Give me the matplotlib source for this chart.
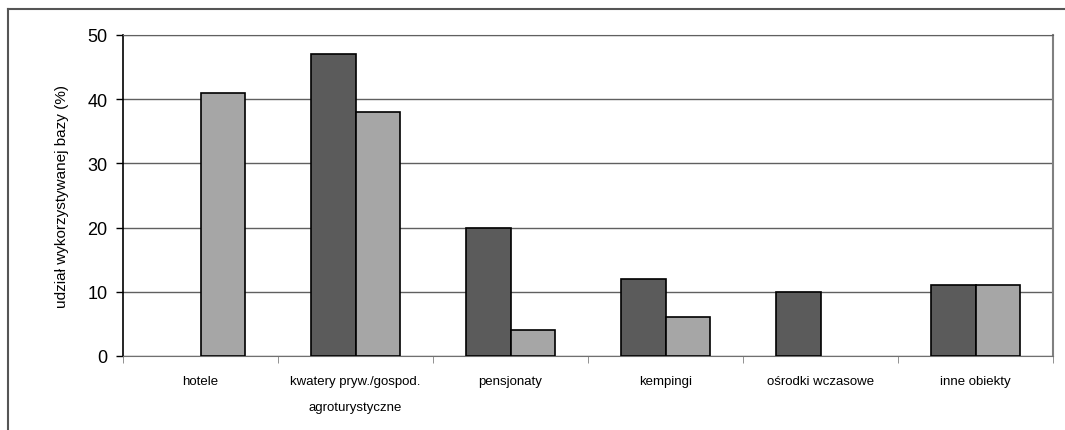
import numpy as np
import matplotlib.pyplot as plt
from matplotlib.lines import Line2D

plt.rcParams['font.family'] = ['Liberation Sans', 'DejaVu Sans']

kategorie = ['hotele', 'kwatery pryw./gospod.\nagroturystyczne', 'pensjonaty',
             'kempingi', 'ośrodki wczasowe', 'inne obiekty']
seria1 = [0, 47, 20, 12, 10, 11]
seria2 = [41, 38, 4, 6, 0, 11]
yticks = [0, 10, 20, 30, 40, 50]

fig = plt.figure(figsize=(10.65, 4.31), dpi=100)
ax = fig.add_axes([123/1065, 74/431, 930/1065, 321/431])

x = np.arange(len(kategorie))
w = 0.29
# slupki o wartosci 0 nie sa rysowane
for xi, v in zip(x, seria1):
    if v > 0:
        ax.bar(xi - w, v, w, align='edge', color='#5b5b5b', edgecolor='black',
               linewidth=1.2, zorder=3)
for xi, v in zip(x, seria2):
    if v > 0:
        ax.bar(xi, v, w, align='edge', color='#a6a6a6', edgecolor='black',
               linewidth=1.2, zorder=3)

ax.set_xlim(-0.5, len(kategorie) - 0.5)
ax.set_ylim(0, 50)
ax.set_yticks(yticks)
ax.tick_params(axis='y', labelsize=13, length=5, width=1, direction='out', pad=6)
ax.yaxis.grid(True, color='#606060', linewidth=1, zorder=0)
ax.set_xticks(x)
ax.set_xticklabels(kategorie, fontsize=9.5, linespacing=2.5, va='top')
ax.tick_params(axis='x', length=0, pad=14)
ax.set_xticks(np.arange(len(kategorie) + 1) - 0.5, minor=True)
ax.tick_params(axis='x', which='minor', length=5, color='#808080', direction='out')

ax.spines['left'].set_color('black')
ax.spines['left'].set_linewidth(1.2)
ax.spines['bottom'].set_color('#707070')
ax.spines['right'].set_color('#808080')
ax.spines['right'].set_linewidth(1.5)
ax.spines['top'].set_color('#606060')

ax.set_ylabel('udział wykorzystywanej bazy (%)', fontsize=11)
ax.yaxis.set_label_coords(-54/930, 0.5)

# ramka wykresu
fig.add_artist(Line2D([8/1065, 1], [1 - 10/431, 1 - 10/431], color='#555555', linewidth=1.5))
fig.add_artist(Line2D([8/1065, 8/1065], [0, 1 - 10/431], color='#555555', linewidth=1.5))

fig.savefig('out.png', dpi=100)
